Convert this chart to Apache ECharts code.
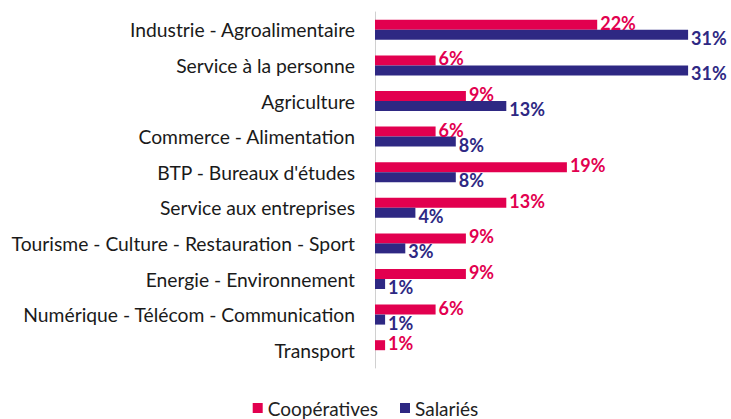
<!DOCTYPE html>
<html>
<head>
<meta charset="utf-8">
<script src="https://cdn.jsdelivr.net/npm/echarts@6/dist/echarts.min.js"></script>
<style>
  html, body { margin: 0; padding: 0; background: #fff; }
  #chart { width: 731px; height: 419px; }
</style>
</head>
<body>
<div id="chart"></div>
<script>
var categories = [
  'Industrie - Agroalimentaire',
  'Service à la personne',
  'Agriculture',
  'Commerce - Alimentation',
  "BTP - Bureaux d'études",
  'Service aux entreprises',
  'Tourisme - Culture - Restauration - Sport',
  'Energie - Environnement',
  'Numérique - Télécom - Communication',
  'Transport'
];
var cooperatives = [22, 6, 9, 6, 19, 13, 9, 9, 6, 1];
var salaries = [31, 31, 13, 8, 8, 4, 3, 1, 1, null];

var chart = echarts.init(document.getElementById('chart'), null, { renderer: 'svg' });

var fontFam = 'Lato, "Open Sans", sans-serif';

chart.setOption({
  animation: false,
  legend: {
    bottom: 0,
    left: 'center',
    padding: [0, 5, 1, 5],
    itemWidth: 10,
    itemHeight: 10,
    itemGap: 22,
    icon: 'rect',
    textStyle: { fontFamily: fontFam, fontSize: 19, color: '#222', lineHeight: 20 },
    data: ['Coopératives', 'Salariés']
  },
  grid: { left: 375, top: 12, width: 353.5, height: 356 },
  xAxis: {
    type: 'value',
    min: 0,
    max: 35,
    show: false
  },
  yAxis: {
    type: 'category',
    inverse: true,
    data: categories,
    axisLine: { show: true, lineStyle: { color: '#d0d0d0', width: 1 } },
    axisTick: { show: false },
    axisLabel: { fontFamily: fontFam, fontSize: 19.3, color: '#1a1a1a', margin: 20 }
  },
  series: [
    {
      name: 'Coopératives',
      type: 'bar',
      data: cooperatives,
      barWidth: 10,
      barGap: '0%',
      itemStyle: { color: '#E2004F' },
      label: {
        show: true, position: 'right', distance: 3, offset: [0, -2],
        formatter: '{c}%', fontFamily: fontFam, fontSize: 18, lineHeight: 17,
        fontWeight: 'bold', color: '#E2004F'
      }
    },
    {
      name: 'Salariés',
      type: 'bar',
      data: salaries,
      barWidth: 10,
      itemStyle: { color: '#2E2883' },
      label: {
        show: true, position: 'right', distance: 3, offset: [0, 3],
        formatter: '{c}%', fontFamily: fontFam, fontSize: 18, lineHeight: 17,
        fontWeight: 'bold', color: '#2E2883'
      }
    }
  ]
});
</script>
</body>
</html>
